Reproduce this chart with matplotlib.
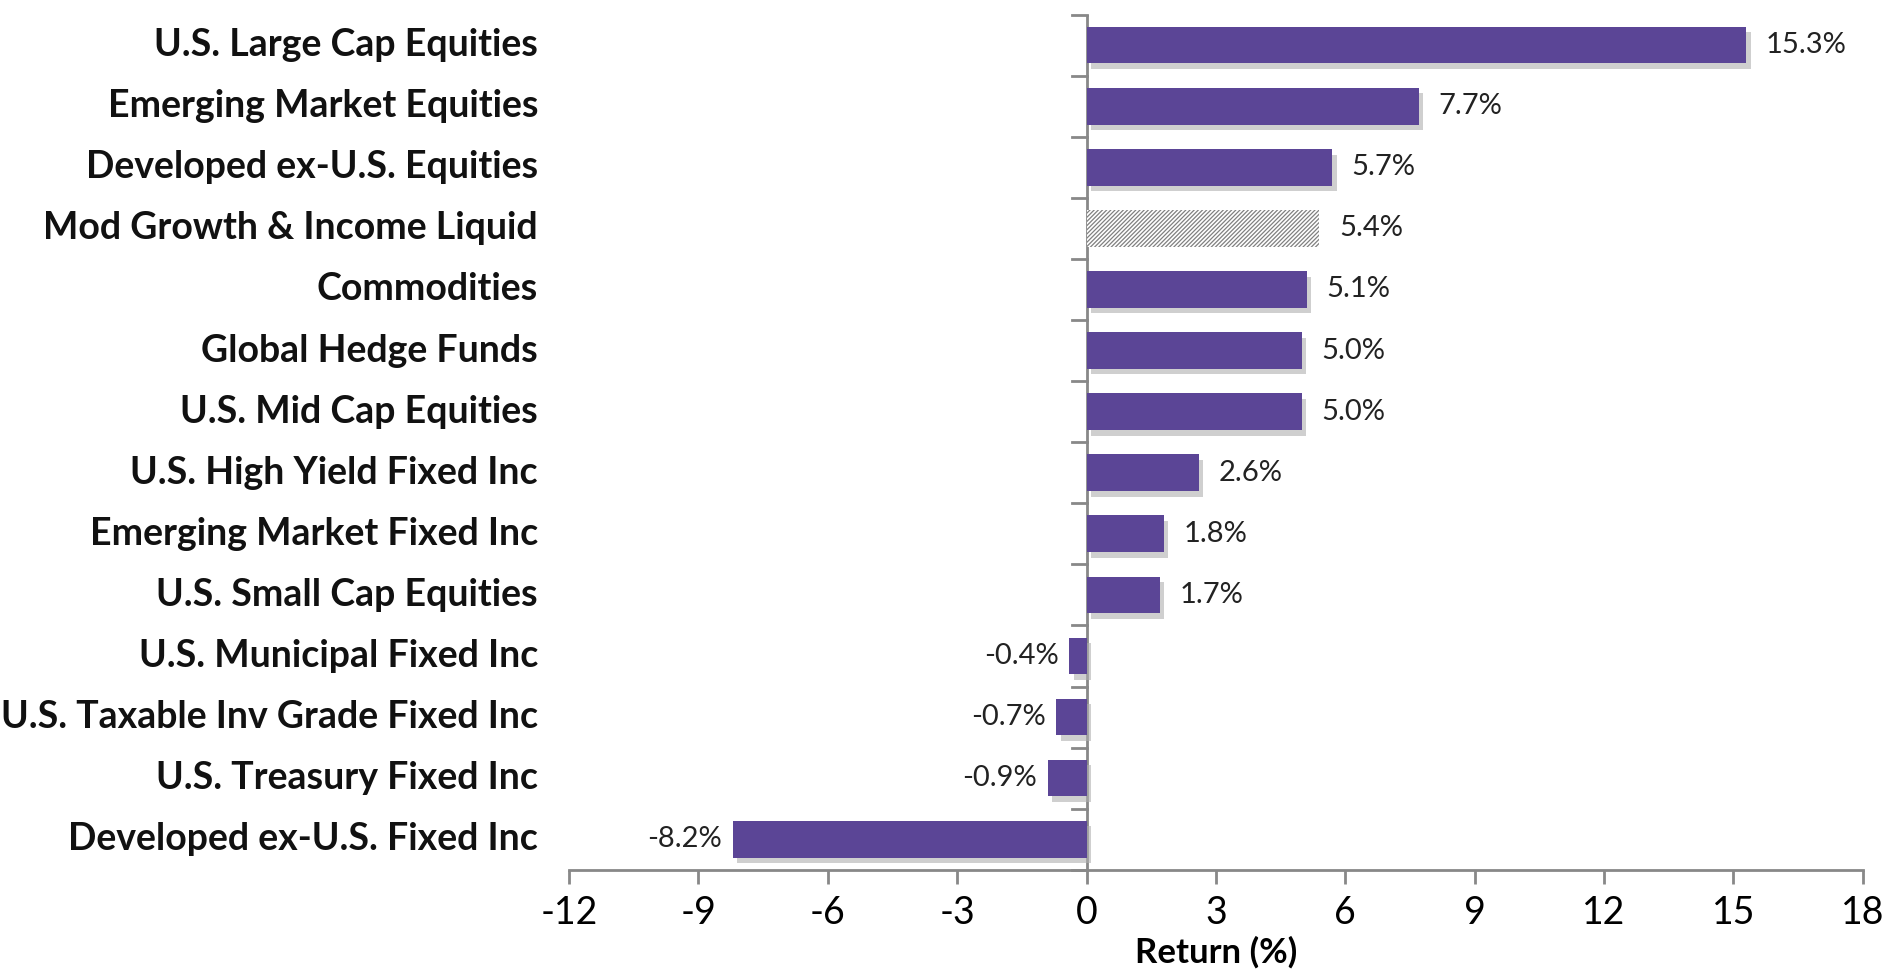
import matplotlib.pyplot as plt
import matplotlib.patheffects as pe
import numpy as np

plt.rcParams['font.family'] = ['Lato', 'DejaVu Sans']
plt.rcParams['axes.unicode_minus'] = False

categories = ["U.S. Large Cap Equities", "Emerging Market Equities", "Developed ex-U.S. Equities",
              "Mod Growth & Income Liquid", "Commodities", "Global Hedge Funds", "U.S. Mid Cap Equities",
              "U.S. High Yield Fixed Inc", "Emerging Market Fixed Inc", "U.S. Small Cap Equities",
              "U.S. Municipal Fixed Inc", "U.S. Taxable Inv Grade Fixed Inc", "U.S. Treasury Fixed Inc",
              "Developed ex-U.S. Fixed Inc"]
returns = [15.3, 7.7, 5.7, 5.4, 5.1, 5.0, 5.0, 2.6, 1.8, 1.7, -0.4, -0.7, -0.9, -8.2]
labels = ["15.3%", "7.7%", "5.7%", "5.4%", "5.1%", "5.0%", "5.0%", "2.6%", "1.8%", "1.7%",
          "-0.4%", "-0.7%", "-0.9%", "-8.2%"]
highlight = "Mod Growth & Income Liquid"

purple = "#5b4596"
fig = plt.figure(figsize=(18.97, 9.74), dpi=100)
ax = fig.add_axes([0.300, 0.107, 0.682, 0.878])

y = np.arange(len(categories))
shadow = [pe.SimplePatchShadow(offset=(3, -4), shadow_rgbFace="#b0b0b0", alpha=0.6), pe.Normal()]
plt.rcParams['hatch.color'] = '#707070'
plt.rcParams['hatch.linewidth'] = 0.9
for yi, cat, v, lab in zip(y, categories, returns, labels):
    if cat == highlight:
        ax.barh(yi, v, height=0.6, color="white", hatch="////////", edgecolor="#808080", linewidth=0)
    else:
        b = ax.barh(yi, v, height=0.6, color=purple)
        for p in b:
            p.set_path_effects(shadow)
    if v >= 0:
        ax.text(v + 0.45, yi, lab, va="center", ha="left", fontsize=21, color="#222222")
    else:
        ax.text(v - 0.25, yi, lab, va="center", ha="right", fontsize=21, color="#222222")

ax.set_ylim(len(categories) - 0.5, -0.5)
ax.set_xlim(-12, 18)
ax.set_xticks(np.arange(-12, 19, 3))
ax.tick_params(axis="x", labelsize=27, length=10, color="#888888", width=2, pad=8)
ax.set_yticks([])
ax.set_xlabel("Return (%)", fontsize=25, fontweight="bold", labelpad=4)

for s in ["top", "right", "left"]:
    ax.spines[s].set_visible(False)
ax.spines["bottom"].set_color("#888888")
ax.spines["bottom"].set_linewidth(2)
ax.axvline(0, color="#888888", lw=2, zorder=0)
for b in np.arange(-0.5, len(categories) + 0.5, 1):
    ax.plot([-0.35, 0], [b, b], color="#888888", lw=2, clip_on=False)

for yi, cat in zip(y, categories):
    ax.text(-0.024, yi, cat, transform=ax.get_yaxis_transform(), ha="right", va="center",
            fontsize=27, fontweight="bold", color="#111111")

fig.savefig("out.png", dpi=100)
